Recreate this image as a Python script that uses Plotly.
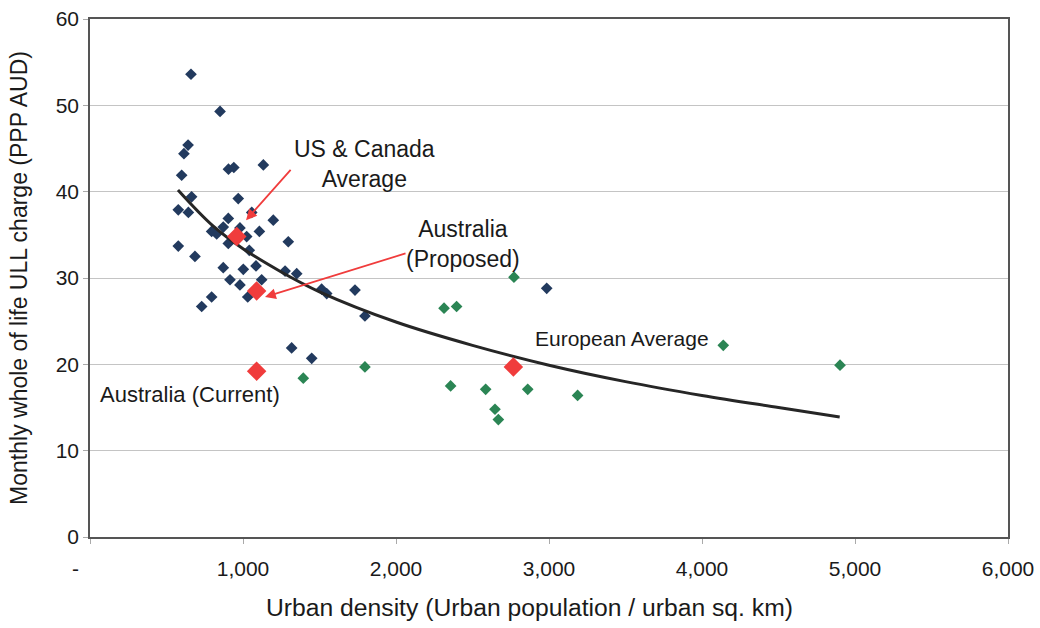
import plotly.graph_objects as go

# North America (navy) points
na_x = [660, 850, 641, 614, 905, 940, 1133, 599, 664, 969, 577, 643, 1057, 904, 1198,
        795, 828, 871, 980, 1107, 904, 1024, 1296, 577, 1041, 686, 871, 1002, 1085,
        1275, 1351, 915, 980, 1122, 1514, 1547, 1031, 795, 730, 1732, 1797, 1318, 1449, 2985]
na_y = [53.6, 49.3, 45.4, 44.4, 42.6, 42.8, 43.1, 41.9, 39.4, 39.2, 37.9, 37.6, 37.6, 36.9, 36.7,
        35.4, 35.1, 35.9, 35.8, 35.4, 34.0, 34.8, 34.2, 33.7, 33.2, 32.5, 31.2, 31.0, 31.4,
        30.8, 30.5, 29.8, 29.2, 29.8, 28.7, 28.2, 27.8, 27.8, 26.7, 28.6, 25.6, 21.9, 20.7, 28.8]

# European (green) points
eu_x = [1394, 1797, 2771, 2314, 2396, 2357, 2586, 2861, 3187, 2647, 2669, 4139, 4902]
eu_y = [18.4, 19.7, 30.1, 26.5, 26.7, 17.5, 17.1, 17.1, 16.4, 14.8, 13.6, 22.2, 19.9]

# Highlighted averages (red)
avg_names = ["US & Canada Average", "Australia (Proposed)", "Australia (Current)", "European Average"]
avg_x = [959, 1089, 1089, 2767]
avg_y = [34.8, 28.5, 19.2, 19.7]

# Trend line
trend_x = [575, 800, 1000, 1250, 1500, 2000, 2500, 3000, 3500, 4000, 4500, 4900]
trend_y = [40.2, 36.1, 33.4, 30.7, 28.4, 24.9, 22.2, 19.9, 18.0, 16.4, 15.0, 13.9]

x_tickvals = [0, 1000, 2000, 3000, 4000, 5000, 6000]
x_ticktext = ["-" + "&nbsp;" * 5, "1,000", "2,000", "3,000", "4,000", "5,000", "6,000"]
y_tickvals = [0, 10, 20, 30, 40, 50, 60]

FONT = "Arial, Liberation Sans, sans-serif"

fig = go.Figure()
fig.add_trace(go.Scatter(x=na_x, y=na_y, mode="markers",
                         marker=dict(symbol="diamond", size=9, color="#223a5e"),
                         showlegend=False))
fig.add_trace(go.Scatter(x=eu_x, y=eu_y, mode="markers",
                         marker=dict(symbol="diamond", size=9, color="#2b8554"),
                         showlegend=False))
fig.add_trace(go.Scatter(x=trend_x, y=trend_y, mode="lines",
                         line=dict(color="#262626", width=3, shape="spline"),
                         showlegend=False))
fig.add_trace(go.Scatter(x=avg_x, y=avg_y, mode="markers", text=avg_names,
                         marker=dict(symbol="diamond", size=15, color="#f03c3c"),
                         showlegend=False))

anns = [
    dict(x=1797, y=43.2, text="US &amp; Canada<br>Average", size=23),
    dict(x=2438, y=33.9, text="Australia<br>(Proposed)", size=23),
    dict(x=3477, y=23.05, text="European Average", size=21),
    dict(x=654, y=16.45, text="Australia (Current)", size=22),
]
annotations = []
for a in anns:
    annotations.append(dict(x=a["x"], y=a["y"], xref="x", yref="y", text=a["text"],
                            showarrow=False, align="center",
                            font=dict(family=FONT, size=a["size"], color="#1a1a1a")))
# red arrows
annotations.append(dict(x=1020, y=36.7, ax=1320, ay=42.7, xref="x", yref="y",
                        axref="x", ayref="y", text="", showarrow=True,
                        arrowhead=2, arrowsize=1.2, arrowwidth=1.8, arrowcolor="#f03c3c"))
annotations.append(dict(x=1144, y=27.8, ax=2072, ay=32.9, xref="x", yref="y",
                        axref="x", ayref="y", text="", showarrow=True,
                        arrowhead=2, arrowsize=1.2, arrowwidth=1.8, arrowcolor="#f03c3c"))
# x-axis title (placed slightly left of plot centre, as in the reference)
annotations.append(dict(x=0.479, y=-0.137, xref="paper", yref="paper",
                        xanchor="center", yanchor="middle", showarrow=False,
                        text="Urban density (Urban population / urban sq. km)",
                        font=dict(family=FONT, size=24.7, color="#1a1a1a")))

fig.update_layout(
    width=1040, height=628,
    margin=dict(l=90, r=32, t=19, b=91),
    paper_bgcolor="white", plot_bgcolor="white",
    font=dict(family=FONT, color="#1a1a1a"),
    annotations=annotations,
    hovermode=False,
    xaxis=dict(range=[0, 6000], tickvals=x_tickvals, ticktext=x_ticktext,
               automargin=False, ticklabeloverflow="allow",
               showgrid=False, zeroline=False,
               showline=True, linecolor="#555555", linewidth=1.5, mirror=True,
               ticks="outside", ticklen=5, tickcolor="#aaaaaa",
               ticklabelstandoff=7,
               tickfont=dict(size=21, family=FONT)),
    yaxis=dict(range=[0, 60], tickvals=y_tickvals,
               automargin=False, ticklabeloverflow="allow",
               showgrid=True, gridcolor="#c4c4c4", gridwidth=1, zeroline=False,
               showline=True, linecolor="#555555", linewidth=1.5, mirror=True,
               ticks="outside", ticklen=5, tickcolor="#aaaaaa",
               tickfont=dict(size=21, family=FONT),
               title=dict(text="Monthly whole of life ULL charge (PPP AUD)",
                          font=dict(size=23, family=FONT), standoff=22)),
)

fig.write_html("out.html",
               config={"displayModeBar": False},
               post_script="document.body.style.margin='0px';document.body.style.overflow='hidden';")
